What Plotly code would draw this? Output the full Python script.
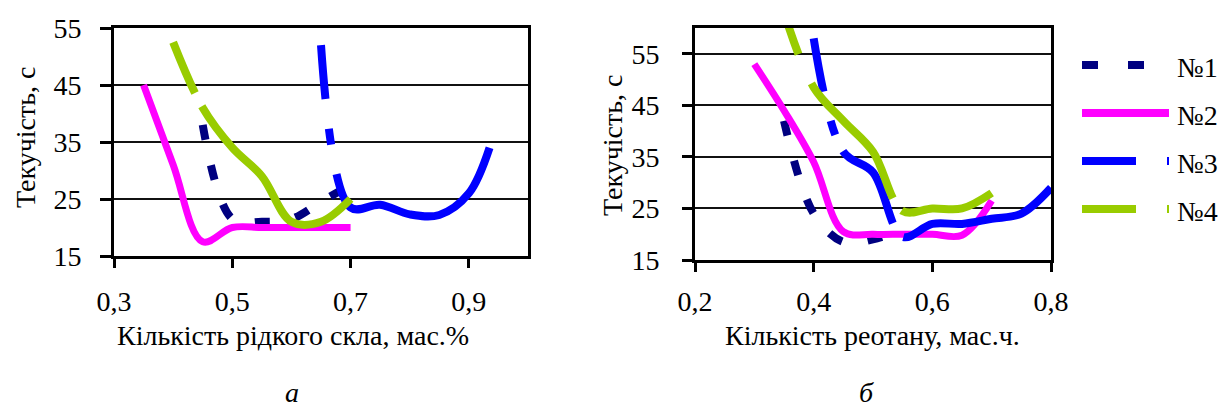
import plotly.graph_objects as go

# ---------------- data ----------------
series_names = ["№1", "№2", "№3", "№4"]

# panel а: Кількість рідкого скла, мас.%
a_x1 = [0.45, 0.50, 0.55, 0.60, 0.65, 0.70]
a_y1 = [38, 21.5, 21, 21.5, 24.5, 27.5]
a_x2 = [0.35, 0.40, 0.45, 0.50, 0.55, 0.60, 0.65, 0.70]
a_y2 = [45, 31, 17.5, 20, 20, 20, 20, 20]
a_x3 = [0.65, 0.70, 0.75, 0.80, 0.85, 0.90, 0.935]
a_y3 = [52, 23.5, 24, 22.3, 22.2, 26, 34]
a_x4 = [0.40, 0.45, 0.50, 0.55, 0.60, 0.65, 0.70]
a_y4 = [52.5, 41, 34, 29, 21, 21, 25]

# panel б: Кількість реотану, мас.ч.
b_x1 = [0.35, 0.40, 0.45, 0.50, 0.55]
b_y1 = [42, 24, 18.5, 19, 21]
b_x2 = [0.30, 0.35, 0.40, 0.45, 0.50, 0.55, 0.60, 0.65, 0.70]
b_y2 = [53, 44, 34, 20.5, 20, 20, 20, 19.8, 26.5]
b_x3 = [0.40, 0.45, 0.50, 0.55, 0.60, 0.65, 0.70, 0.75, 0.80]
b_y3 = [58, 36, 32, 19.5, 22, 22, 23, 24, 29]
b_x4 = [0.35, 0.40, 0.45, 0.50, 0.55, 0.60, 0.65, 0.70]
b_y4 = [63, 48.5, 42, 36, 24.5, 25, 25, 28]

a_xticks = [0.3, 0.5, 0.7, 0.9]
a_xticklabels = ["0,3", "0,5", "0,7", "0,9"]
b_xticks = [0.2, 0.4, 0.6, 0.8]
b_xticklabels = ["0,2", "0,4", "0,6", "0,8"]
yticks = [15, 25, 35, 45, 55]
yticklabels = ["15", "25", "35", "45", "55"]

y_title = "Текучість, с"
a_x_title = "Кількість рідкого скла, мас.%"
b_x_title = "Кількість реотану, мас.ч."
a_label = "а"
b_label = "б"

# ---------------- style ----------------
W, H = 1225, 409
FONT = "Liberation Serif"
FS = 28
colors = ["#000080", "#FF00FF", "#0000FF", "#99CC00"]
widths = [8, 7, 8, 8]
a_dash = ["15px,26px", "solid", "54px,30px,16px,30px,4000px", "55px,15px,4000px"]
b_dash = ["15px,26px", "solid", "54px,30px,15px,18px,92px,18px,4000px",
          "44px,32px,143px,15px,4000px"]
legend_dash = ["16px,30px", "solid", "54px,31px,16px,31px", "54px,31px,16px,31px"]


def px_x(p):
    return p / W


def px_y(p):
    return 1 - p / H


fig = go.Figure()

a_data = [(a_x1, a_y1), (a_x2, a_y2), (a_x3, a_y3), (a_x4, a_y4)]
b_data = [(b_x1, b_y1), (b_x2, b_y2), (b_x3, b_y3), (b_x4, b_y4)]

for i, (xs, ys) in enumerate(a_data):
    fig.add_trace(go.Scatter(
        x=xs, y=ys, mode="lines", name=series_names[i], showlegend=False,
        line=dict(color=colors[i], width=widths[i], dash=a_dash[i], shape="spline", smoothing=1),
        xaxis="x", yaxis="y"))
for i, (xs, ys) in enumerate(b_data):
    fig.add_trace(go.Scatter(
        x=xs, y=ys, mode="lines", name=series_names[i], showlegend=False,
        line=dict(color=colors[i], width=widths[i], dash=b_dash[i], shape="spline", smoothing=1),
        xaxis="x2", yaxis="y2"))

axis_common = dict(
    showline=True, linecolor="black", linewidth=3, mirror=True,
    ticks="outside", tickcolor="black", tickwidth=3,
    tickfont=dict(family=FONT, size=FS, color="black"),
    zeroline=False, automargin=False,
)

fig.update_layout(
    width=W, height=H,
    margin=dict(l=0, r=0, t=0, b=0, pad=0, autoexpand=False),
    paper_bgcolor="white", plot_bgcolor="white",
    showlegend=False,
    font=dict(family=FONT, size=FS, color="black"),
    xaxis=dict(domain=[px_x(114), px_x(528)], range=[0.3, 1.0], anchor="y",
               tickmode="array", tickvals=a_xticks, ticktext=a_xticklabels,
               ticklen=9, showgrid=False, ticklabelstandoff=9, **axis_common),
    yaxis=dict(domain=[px_y(256), px_y(28)], range=[15, 55], anchor="x",
               tickmode="array", tickvals=yticks, ticktext=yticklabels,
               ticklen=11, showgrid=True, gridcolor="#111111", gridwidth=2,
               ticklabelstandoff=13, **axis_common),
    xaxis2=dict(domain=[px_x(695), px_x(1051)], range=[0.2, 0.8], anchor="y2",
                tickmode="array", tickvals=b_xticks, ticktext=b_xticklabels,
                ticklen=9, showgrid=False, ticklabelstandoff=5, **axis_common),
    yaxis2=dict(domain=[px_y(260), px_y(28)], range=[15, 60], anchor="x2",
                tickmode="array", tickvals=yticks, ticktext=yticklabels,
                ticklen=10, showgrid=True, gridcolor="#111111", gridwidth=2,
                ticklabelstandoff=17, **axis_common),
)

ann = []
shapes = []
tf = dict(family=FONT, size=FS, color="black")


def add_text(xp, yp, text, angle=0, xanchor="center"):
    ann.append(dict(x=px_x(xp), y=px_y(yp), xref="paper", yref="paper", text=text,
                    textangle=angle, showarrow=False, font=tf,
                    xanchor=xanchor, yanchor="middle"))


# axis titles
add_text(25, 138, y_title, angle=-90)
add_text(612, 146, y_title, angle=-90)
add_text(293, 335, a_x_title)
add_text(872, 335, b_x_title)
add_text(292, 392, "<i>" + a_label + "</i>")
add_text(866, 392, "<i>" + b_label + "</i>")

# custom legend
leg_y = [65, 113, 161, 209]
for i, name in enumerate(series_names):
    shapes.append(dict(type="line", xref="paper", yref="paper",
                       x0=px_x(1082), x1=px_x(1169), y0=px_y(leg_y[i]), y1=px_y(leg_y[i]),
                       line=dict(color=colors[i], width=8, dash=legend_dash[i])))
    add_text(1175, leg_y[i] + 2, name, xanchor="left")

fig.update_layout(annotations=ann, shapes=shapes)
fig.write_html("out.html")
